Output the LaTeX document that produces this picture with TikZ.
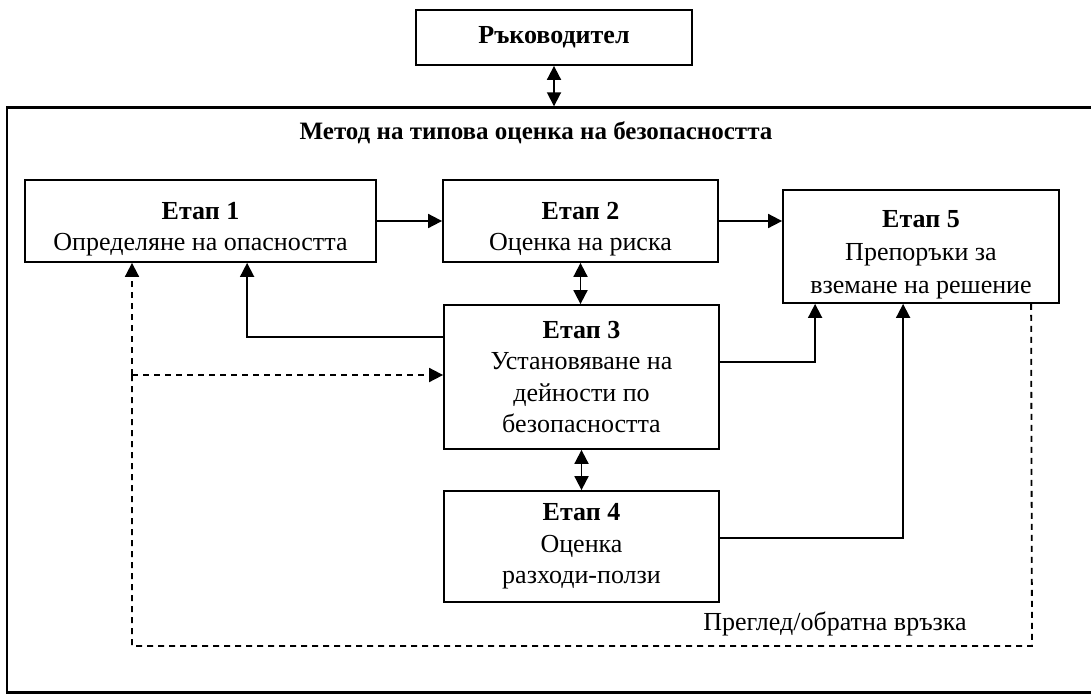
\documentclass[tikz,border=0pt]{standalone}
\usepackage{fontspec}
\setmainfont{Liberation Serif}
\usetikzlibrary{arrows.meta,calc}
\newcommand{\dn}{\rule{0pt}{34pt}}
\begin{document}
\begin{tikzpicture}[x=1pt,y=-1pt,
  box/.style={draw,line width=1.8pt,rectangle,align=center,inner sep=0pt,font=\fontsize{26}{31.5}\selectfont},
  arr/.style={line width=1.8pt,-{Triangle[length=14pt,width=14pt]}},
  darr/.style={line width=1.8pt,{Triangle[length=14pt,width=14pt]}-{Triangle[length=14pt,width=14pt]}},
  dsh/.style={line width=1.8pt,dash pattern=on 6pt off 5pt},
  lbl/.style={inner sep=0pt,font=\fontsize{26}{31}\selectfont}
]
\useasboundingbox (0,0) rectangle (1091,694);
\fill[white] (0,0) rectangle (1091,694);
% outer frame
\node[draw,line width=2.4pt,minimum width=1090pt,minimum height=585pt,inner sep=0pt] (outer) at (552,400) {};
\node[box,minimum width=276pt,minimum height=55pt] (boss) at (554,37.5) {\textbf{Ръководител}};
\node[lbl,font=\fontsize{25}{30}\selectfont] (title) at (536,133) {\textbf{Метод на типова оценка на безопасността}};
\node[box,minimum width=351pt,minimum height=82pt] (e1) at (200.5,221) {\dn\textbf{Етап 1}\\Определяне на опасността};
\node[box,minimum width=275pt,minimum height=82pt] (e2) at (580.5,221) {\dn\textbf{Етап 2}\\Оценка на риска};
\node[box,minimum width=276pt,minimum height=113pt,font=\fontsize{26}{33}\selectfont] (e5) at (921,246.5) {\dn\textbf{Етап 5}\\Препоръки за\\вземане на решение};
\node[box,minimum width=275pt,minimum height=144pt] (e3) at (581.5,377) {\textbf{Етап 3}\\Установяване на\\дейности по\\безопасността};
\node[box,minimum width=275pt,minimum height=111pt] (e4) at (581.5,546.5) {\textbf{Етап 4}\\Оценка\\разходи-ползи};
\node[lbl] (fb) at (835,624) {Преглед/обратна връзка};
% coordinates
\coordinate (fbr) at (1032,646);
\coordinate (fbl) at (132,646);
\coordinate (dj) at (132,375);
% connectors
\draw[darr] (boss.south) -- (boss.south |- outer.north);
\draw[arr] (e1.east) -- (e2.west);
\draw[arr] (e2.east) -- (e2.east -| e5.west);
\draw[darr] (e2.south) -- (e2.south |- e3.north);
\draw[darr] (e3.south) -- (e3.south |- e4.north);
\draw[arr] ($(e3.north west)+(0,33)$) -| ($(e1.south west)+(223,0)$);
\draw[arr] ($(e3.north east)+(0,58)$) -| ($(e5.south west)+(33,0)$);
\draw[arr] ($(e4.north east)+(0,48)$) -| ($(e5.south west)+(121,0)$);
% dashed feedback loop
\draw[dsh] ($(e5.south west)+(249,0)$) -- (fbr) -- (fbl) -- (dj);
\draw[dsh,-{Triangle[length=14pt,width=14pt]}] (dj) -- (dj |- e1.south);
\draw[dsh,-{Triangle[length=14pt,width=14pt]}] (dj) -- (dj -| e3.west);
\end{tikzpicture}
\end{document}
